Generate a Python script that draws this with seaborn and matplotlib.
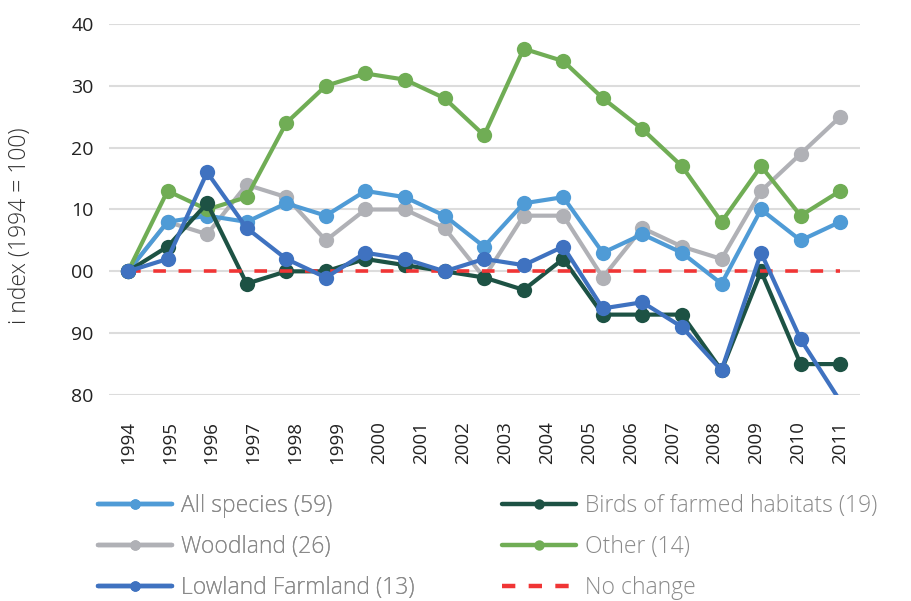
import matplotlib
matplotlib.use("Agg")
import matplotlib.pyplot as plt
import seaborn as sns
import numpy as np
from matplotlib.lines import Line2D

# ---- data ----
year_labels = ["1994", "1995", "1996", "1997", "1998", "1999", "2000", "2001", "2002",
               "2003", "2004", "2005", "2006", "2007", "2008", "2009", "2010", "2011"]
all_species = [100, 108, 109, 108, 111, 109, 113, 112, 109, 104, 111, 112, 103, 106, 103, 98, 110, 105, 108]
woodland = [100, 108, 106, 114, 112, 105, 110, 110, 107, 99, 109, 109, 99, 107, 104, 102, 113, 119, 125]
other = [100, 113, 110, 112, 124, 130, 132, 131, 128, 122, 136, 134, 128, 123, 117, 108, 117, 109, 113]
birds_farmed = [100, 104, 111, 98, 100, 100, 102, 101, 100, 99, 97, 102, 93, 93, 93, 84, 100, 85, 85]
lowland = [100, 102, 116, 107, 102, 99, 103, 102, 100, 102, 101, 104, 94, 95, 91, 84, 103, 89, 79]
no_change = [100] * 19
ytick_values = [80, 90, 100, 110, 120, 130, 140]
ytick_labels = ["80", "90", "00", "10", "20", "30", "40"]

sns.set_theme(style="white")
plt.rcParams["font.family"] = ["Open Sans", "DejaVu Sans"]

fig = plt.figure(figsize=(9.12, 6.01), dpi=100)
ax = fig.add_axes([109 / 912, 1 - 395 / 601, (860 - 109) / 912, (395 - 24) / 601])

x = np.arange(len(all_species))

series = [
    ("Woodland (26)", woodland, "#b0b1b6", 1),
    ("All species (59)", all_species, "#4f9bd6", 2),
    ("Other (14)", other, "#70ad55", 3),
    ("Birds of farmed habitats (19)", birds_farmed, "#1d5244", 4),
    ("Lowland Farmland (13)", lowland, "#3f72c0", 6),
]
colors = {}
for name, vals, col, z in series:
    colors[name] = col
    vals = np.asarray(vals, dtype=float)
    visible = [i for i, v in enumerate(vals) if v >= 80]
    sns.lineplot(x=x, y=vals, ax=ax, color=col, linewidth=3.0, marker="o",
                 markersize=11, markeredgewidth=0, markevery=visible,
                 zorder=z, legend=False)

sns.lineplot(x=x, y=no_change, ax=ax, color="#f03535", linewidth=2.6,
             linestyle=(0, (3.5, 3.5)), zorder=5, legend=False)

ax.set_xlim(-0.48, 18.5)
ax.set_ylim(80, 140)
ax.set_yticks(ytick_values)
ax.set_yticklabels(ytick_labels, fontsize=14, color="#222222")
ax.yaxis.grid(True, color="#dcdcdc", linewidth=1.5)
ax.xaxis.grid(False)
ax.set_axisbelow(True)
tick_pos = np.linspace(0, len(all_species) - 1, len(year_labels))
ax.set_xticks(tick_pos)
ax.set_xticklabels(year_labels, rotation=90, fontsize=13.5, color="#222222")
ax.tick_params(axis="both", length=0)
ax.tick_params(axis="x", pad=19)
ax.tick_params(axis="y", pad=11)
for s in ax.spines.values():
    s.set_visible(False)

fig.text(20 / 912, 1 - 226 / 601, "i ndex (1994 = 100)", rotation=90, ha="center",
         va="center", fontsize=16.5, color="#333333", fontweight="light")

legend_font = {"family": ["Open Sans", "DejaVu Sans"], "size": 16.5, "weight": "light"}


def make_handle(col, dashed=False):
    if dashed:
        return Line2D([0], [0], color=col, linewidth=3.2, linestyle=(0, (3, 3)))
    return Line2D([0], [0], color=col, linewidth=3.2, marker="o", markersize=7.5,
                  markeredgewidth=0)


left_names = ["All species (59)", "Woodland (26)", "Lowland Farmland (13)"]
right_names = ["Birds of farmed habitats (19)", "Other (14)"]

common = dict(loc="upper left", frameon=False, prop=legend_font, borderpad=0,
              borderaxespad=0, handlelength=3.25, handletextpad=0.38,
              labelspacing=0.745, labelcolor="#8a8a8a")
leg_left = fig.legend([make_handle(colors[n]) for n in left_names], left_names,
                      bbox_to_anchor=(98 / 912, 1 - 494 / 601), **common)
fig.add_artist(leg_left)
right_handles = [make_handle(colors[n]) for n in right_names] + [make_handle("#f03535", True)]
leg_right = fig.legend(right_handles, right_names + ["No change"],
                       bbox_to_anchor=(502 / 912, 1 - 494 / 601), **common)

fig.savefig("out.png", dpi=100)
